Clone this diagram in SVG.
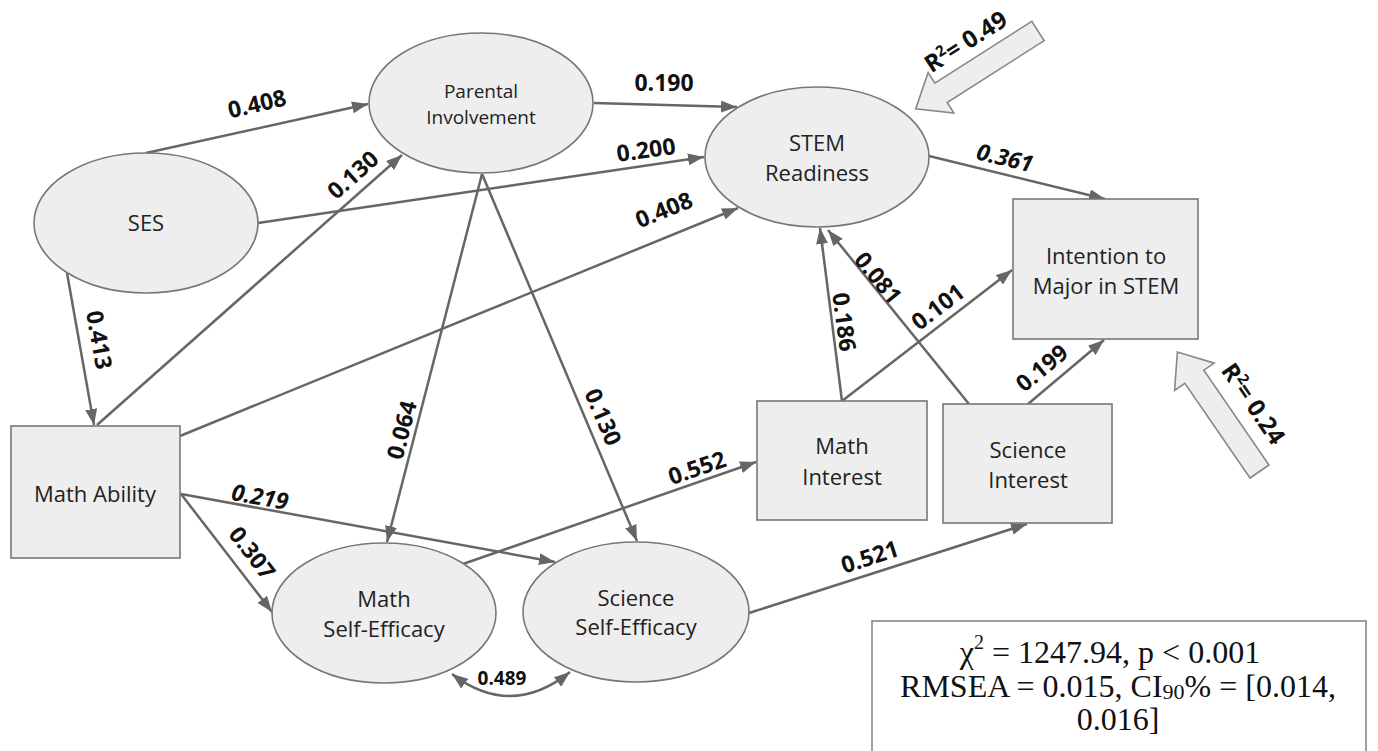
<svg xmlns="http://www.w3.org/2000/svg" width="1378" height="751" viewBox="0 0 1378 751">
  <defs>
    <style>
      .node { fill: #eeeeee; stroke: #777777; stroke-width: 1.6; }
      .ntext { font-family: "Open Sans", "Liberation Sans", sans-serif; font-size: 22px; fill: #222222; text-anchor: middle; }
      .edge { fill: none; stroke: #666666; stroke-width: 2.5; }
      .lbl { font-family: "Open Sans", "Liberation Sans", sans-serif; font-size: 23px; font-weight: bold; fill: #111111; text-anchor: middle; }
      .it { font-style: italic; }
      .block { fill: #eeeeee; stroke: #888888; stroke-width: 1.6; stroke-linejoin: miter; }
      .stats { font-family: "Liberation Serif", "Times New Roman", serif; font-size: 32px; fill: #111111; text-anchor: middle; }
    </style>
    <marker id="arr" viewBox="0 0 16 12" refX="16" refY="6" markerWidth="16" markerHeight="12" markerUnits="userSpaceOnUse" orient="auto-start-reverse">
      <path d="M0,0 L16,6 L0,12 Z" fill="#666666"/>
    </marker>
    <!-- hollow block arrow pointing along +x, tail at origin -->
    <polygon id="blockArrow" points="0,-11.5 115,-11.5 115,-24 145,0 115,24 115,11.5 0,11.5"/>
  </defs>

  <rect width="1378" height="751" fill="#ffffff"/>

  <!-- connectors -->
  <g id="connectors">
    <line class="edge" x1="146" y1="153" x2="368" y2="104" marker-end="url(#arr)"/>
    <line class="edge" x1="258" y1="223" x2="704" y2="157" marker-end="url(#arr)"/>
    <line class="edge" x1="97" y1="425" x2="402" y2="155" marker-end="url(#arr)"/>
    <line class="edge" x1="67" y1="273" x2="94" y2="425" marker-end="url(#arr)"/>
    <line class="edge" x1="594" y1="103" x2="737" y2="107" marker-end="url(#arr)"/>
    <line class="edge" x1="180" y1="436" x2="738" y2="208" marker-end="url(#arr)"/>
    <line class="edge" x1="482" y1="174" x2="387" y2="542" marker-end="url(#arr)"/>
    <line class="edge" x1="482" y1="174" x2="637" y2="541" marker-end="url(#arr)"/>
    <line class="edge" x1="181" y1="494" x2="272" y2="612" marker-end="url(#arr)"/>
    <line class="edge" x1="181" y1="494" x2="555" y2="562" marker-end="url(#arr)"/>
    <line class="edge" x1="463" y1="564" x2="756" y2="462" marker-end="url(#arr)"/>
    <line class="edge" x1="749" y1="613" x2="1027" y2="524" marker-end="url(#arr)"/>
    <line class="edge" x1="842" y1="401" x2="820" y2="228" marker-end="url(#arr)"/>
    <line class="edge" x1="969" y1="404" x2="828" y2="230" marker-end="url(#arr)"/>
    <line class="edge" x1="842" y1="401" x2="1012" y2="270" marker-end="url(#arr)"/>
    <line class="edge" x1="1028" y1="404" x2="1104" y2="340" marker-end="url(#arr)"/>
    <line class="edge" x1="929" y1="156" x2="1105" y2="199" marker-end="url(#arr)"/>
    <path class="edge" d="M452,674 Q511,719 570,672" marker-start="url(#arr)" marker-end="url(#arr)"/>

    <!-- path coefficients -->
    <text class="lbl" transform="translate(257,104) rotate(-13)" dy="8">0.408</text>
    <text class="lbl" transform="translate(646,150) rotate(-8)" dy="8">0.200</text>
    <text class="lbl" transform="translate(353,175) rotate(-41.5)" dy="8">0.130</text>
    <text class="lbl" transform="translate(99,340) rotate(80)" dy="8">0.413</text>
    <text class="lbl" transform="translate(664,83)" dy="8">0.190</text>
    <text class="lbl" transform="translate(664,210) rotate(-22)" dy="8">0.408</text>
    <text class="lbl" transform="translate(402,430) rotate(-75.5)" dy="8">0.064</text>
    <text class="lbl" transform="translate(603,417) rotate(67)" dy="8">0.130</text>
    <text class="lbl" transform="translate(252,553) rotate(52.4)" dy="8">0.307</text>
    <text class="lbl it" transform="translate(260,497) rotate(10.2)" dy="8">0.219</text>
    <text class="lbl" transform="translate(697,468) rotate(-19.2)" dy="8">0.552</text>
    <text class="lbl" transform="translate(870,557) rotate(-17.8)" dy="8">0.521</text>
    <text class="lbl" transform="translate(844,322) rotate(82.7)" dy="8">0.186</text>
    <text class="lbl" transform="translate(878,278) rotate(50.8)" dy="8">0.081</text>
    <text class="lbl" transform="translate(938,307) rotate(-37.4)" dy="8">0.101</text>
    <text class="lbl" transform="translate(1042,368) rotate(-39.7)" dy="8">0.199</text>
    <text class="lbl it" transform="translate(1005,158) rotate(13.7)" dy="8">0.361</text>
    <text class="lbl" x="502" y="685" style="font-size:19px">0.489</text>
  </g>

  <!-- latent variables -->
  <g id="ses">
    <ellipse class="node" cx="146" cy="223" rx="112" ry="70"/>
    <text class="ntext" x="146" y="231">SES</text>
  </g>
  <g id="parental-involvement">
    <ellipse class="node" cx="481" cy="103" rx="112" ry="70"/>
    <text class="ntext" style="font-size:19px" x="481" y="98">Parental</text>
    <text class="ntext" style="font-size:19px" x="481" y="124">Involvement</text>
  </g>
  <g id="stem-readiness">
    <ellipse class="node" cx="817" cy="157" rx="112" ry="70"/>
    <text class="ntext" x="817" y="151">STEM</text>
    <text class="ntext" x="817" y="181">Readiness</text>
  </g>
  <g id="math-self-efficacy">
    <ellipse class="node" cx="384" cy="613" rx="112" ry="70"/>
    <text class="ntext" x="384" y="607">Math</text>
    <text class="ntext" x="384" y="637">Self-Efficacy</text>
  </g>
  <g id="science-self-efficacy">
    <ellipse class="node" cx="636" cy="612" rx="113" ry="70"/>
    <text class="ntext" x="636" y="606">Science</text>
    <text class="ntext" x="636" y="635">Self-Efficacy</text>
  </g>

  <!-- observed variables -->
  <g id="math-ability">
    <rect class="node" x="11" y="426" width="169" height="132"/>
    <text class="ntext" x="95" y="502">Math Ability</text>
  </g>
  <g id="math-interest">
    <rect class="node" x="757" y="401" width="170" height="119"/>
    <text class="ntext" x="842" y="454">Math</text>
    <text class="ntext" x="842" y="485">Interest</text>
  </g>
  <g id="science-interest">
    <rect class="node" x="943" y="404" width="169" height="119"/>
    <text class="ntext" x="1028" y="458">Science</text>
    <text class="ntext" x="1028" y="488">Interest</text>
  </g>
  <g id="intention">
    <rect class="node" x="1013" y="199" width="185" height="140"/>
    <text class="ntext" x="1106" y="264">Intention to</text>
    <text class="ntext" x="1106" y="294">Major in STEM</text>
  </g>

  <!-- explained variance callouts -->
  <g id="r2-stem">
    <use href="#blockArrow" class="block" transform="translate(1038,31) rotate(147.5)"/>
    <text class="lbl" style="font-size:24px" transform="translate(966,42) rotate(-32.5)" dy="8">R<tspan font-size="15" dy="-9">2</tspan><tspan dy="9">= 0.49</tspan></text>
  </g>
  <g id="r2-intention">
    <use href="#blockArrow" class="block" transform="translate(1259.5,471.5) rotate(235.5)"/>
    <text class="lbl" style="font-size:24px" transform="translate(1253,404) rotate(55.5)" dy="8">R<tspan font-size="15" dy="-9">2</tspan><tspan dy="9">= 0.24</tspan></text>
  </g>

  <!-- model fit -->
  <g id="fit-stats">
    <rect x="872" y="621" width="494" height="145" fill="#ffffff" stroke="#888888" stroke-width="1.6"/>
    <text class="stats" x="1110" y="663">χ<tspan font-size="20" dy="-14">2</tspan><tspan dy="14"> = 1247.94, p &lt; 0.001</tspan></text>
    <text class="stats" x="1118" y="697">RMSEA = 0.015, CI<tspan font-size="22" dy="2">90</tspan><tspan dy="-2">% = [0.014,</tspan></text>
    <text class="stats" x="1118" y="730">0.016]</text>
  </g>
</svg>
